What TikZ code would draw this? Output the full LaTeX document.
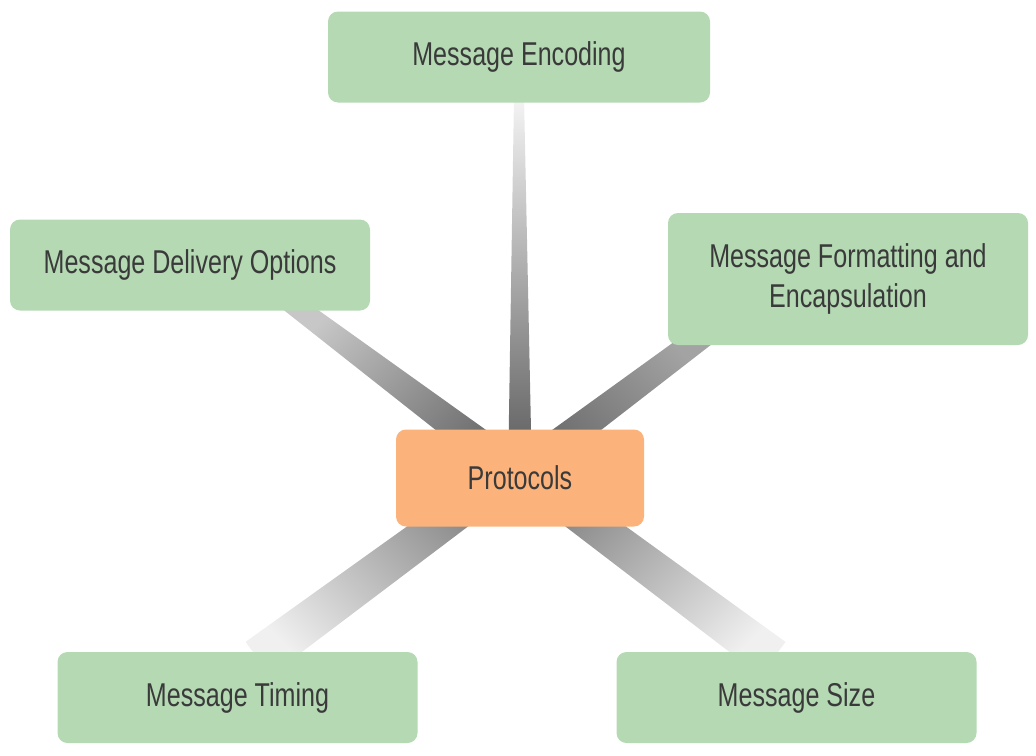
\documentclass[tikz,border=0pt]{standalone}
\usepackage{fontspec}
\setmainfont{Liberation Sans}[FakeStretch=0.76]
\usetikzlibrary{calc,backgrounds}

\definecolor{boxgreen}{HTML}{B4D9B3}
\definecolor{hubpeach}{HTML}{FBB37B}
\definecolor{labelgray}{HTML}{3A3A3A}

\begin{document}
\begin{tikzpicture}[x=1pt,y=1pt,
    box/.style={fill=boxgreen,rounded corners=10pt,minimum width=360pt,minimum height=91pt,inner sep=0pt,align=center,text=labelgray,font=\fontsize{33}{40}\selectfont},
    hub/.style={box,fill=hubpeach,minimum width=248pt,minimum height=97pt}]
            \useasboundingbox (0,0) rectangle (1036,-755);
            % Boxes
            \node[box,minimum width=382pt](enc) at (519,-57) {Message Encoding};
            \node[box](deliv) at (190,-265) {Message Delivery Options};
            \node[box,minimum height=132pt](fmt) at (848,-279) {Message Formatting and\\Encapsulation};
            \node[hub](prot) at (520,-478) {Protocols};
            \node[box](timing) at (237.5,-697.5) {Message Timing};
            \node[box](size) at (796.5,-697.5) {Message Size};
            % Spoke ends
            \coordinate (s1) at (prot.center);
            \coordinate (e1) at ($(enc.south)+(0,6)$);
            \coordinate (s2) at ($(prot.center)+(4,0)$);
            \coordinate (e2) at ($(deliv.south)+(98,10)$);
            \coordinate (s3) at ($(prot.center)+(-7,0)$);
            \coordinate (e3) at ($(fmt.south west)+(36,10)$);
            \coordinate (s4) at ($(prot.center)+(-16,0)$);
            \coordinate (e4) at ($(timing.north)+(20.5,-7)$);
            \coordinate (s5) at ($(prot.center)+(10,0)$);
            \coordinate (e5) at ($(size.north)+(-23.5,-7)$);
            % Spokes
            \begin{scope}[on background layer]
            \shade[top color=black!4,bottom color=black!66,shading angle=0]($(s1)!12pt!90:(e1)$)--($(e1)!5pt!-90:(s1)$)--($(e1)!5pt!90:(s1)$)--($(s1)!12pt!-90:(e1)$)--cycle;
            \shade[top color=black!22,bottom color=black!62,shading angle=45]($(s2)!17pt!90:(e2)$)--($(e2)!10pt!-90:(s2)$)--($(e2)!10pt!90:(s2)$)--($(s2)!17pt!-90:(e2)$)--cycle;
            \shade[top color=black!36,bottom color=black!62,shading angle=-45]($(s3)!16pt!90:(e3)$)--($(e3)!12pt!-90:(s3)$)--($(e3)!12pt!90:(s3)$)--($(s3)!16pt!-90:(e3)$)--cycle;
            \shade[top color=black!6,bottom color=black!50,shading angle=135]($(s4)!17pt!90:(e4)$)--($(e4)!21pt!-90:(s4)$)--($(e4)!21pt!90:(s4)$)--($(s4)!17pt!-90:(e4)$)--cycle;
            \shade[top color=black!6,bottom color=black!50,shading angle=-135]($(s5)!17pt!90:(e5)$)--($(e5)!21pt!-90:(s5)$)--($(e5)!21pt!90:(s5)$)--($(s5)!17pt!-90:(e5)$)--cycle;
            \end{scope}
\end{tikzpicture}
\end{document}
